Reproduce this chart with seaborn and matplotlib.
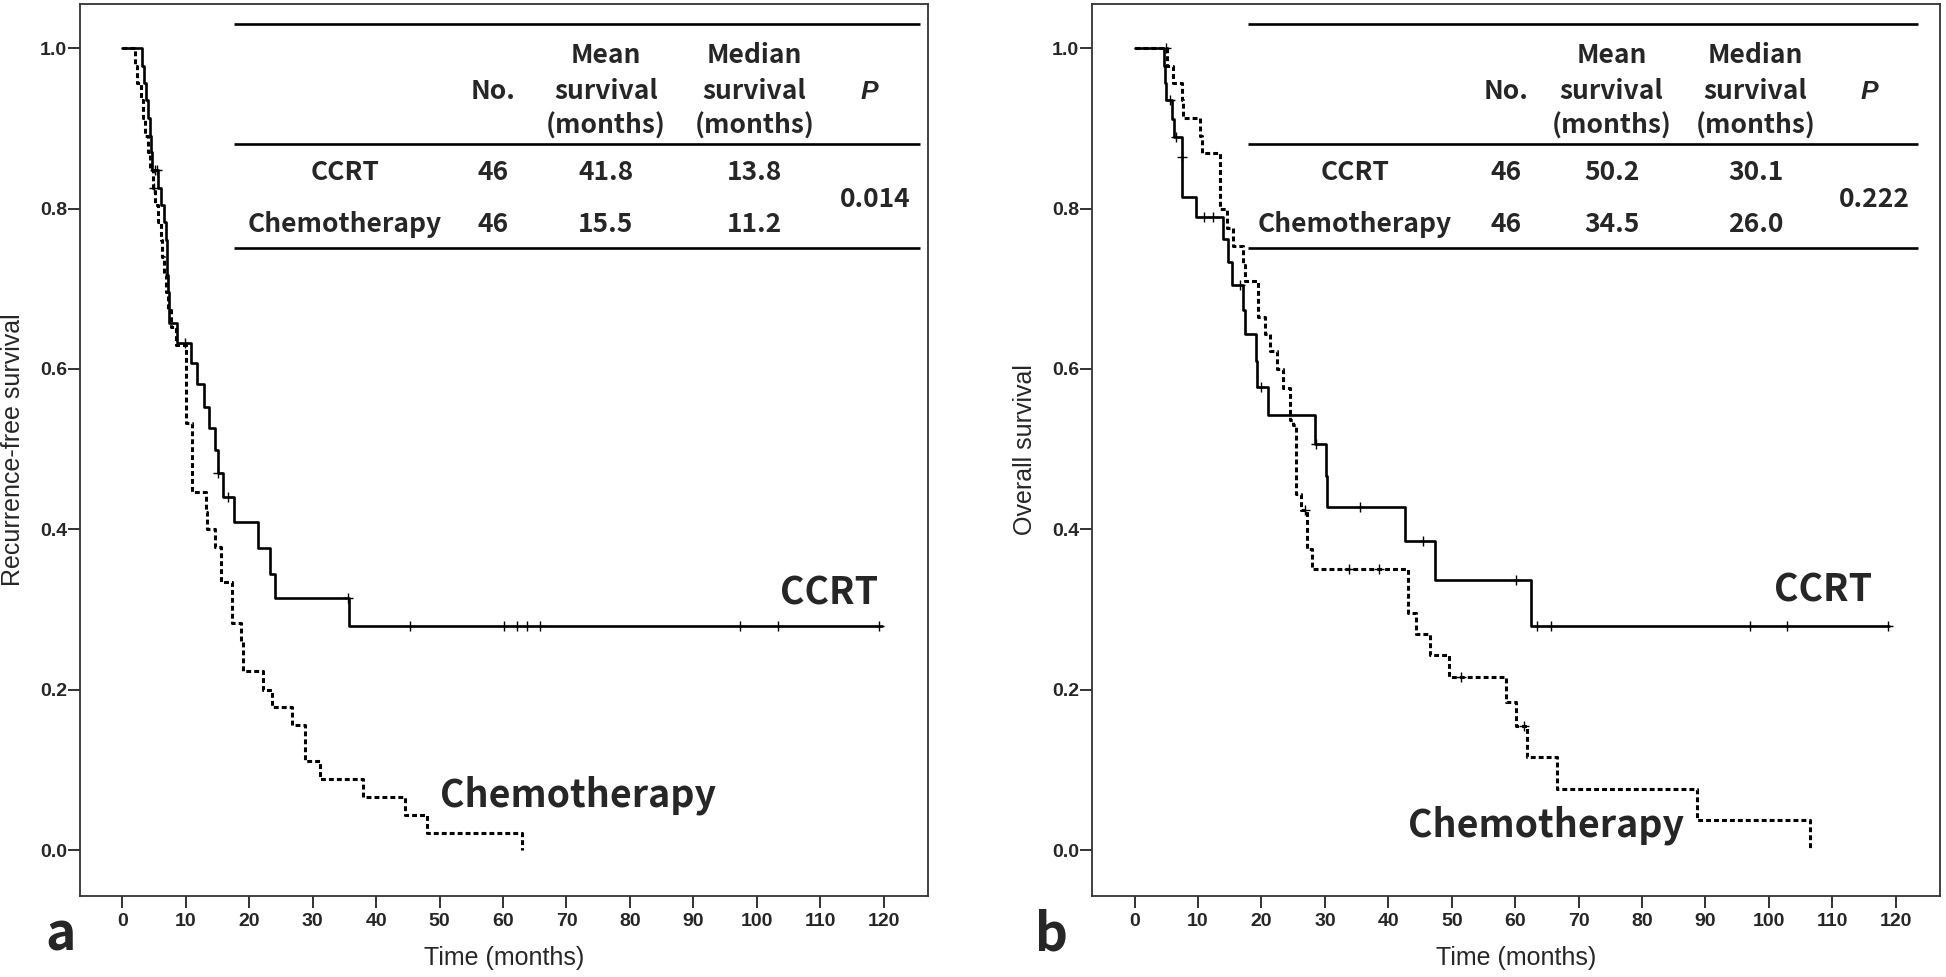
import numpy as np
import pandas as pd
import matplotlib
matplotlib.use("Agg")
import matplotlib.pyplot as plt
import seaborn as sns

# Kaplan-Meier step values (time in months, survival after the step)
rfs_ccrt_t = [0, 3.0, 3.4, 3.65, 4.0, 4.3, 4.5, 4.7, 5.6, 6.0, 6.5, 6.8, 7.0, 7.1, 7.3,
              8.6, 10.8, 11.8, 12.9, 13.6, 14.6, 15.0, 15.9, 17.6, 21.3, 23.3, 24.1, 35.7, 119.7]
rfs_ccrt_s = [1.0, 0.978, 0.957, 0.935, 0.913, 0.891, 0.870, 0.848, 0.826, 0.804, 0.783, 0.761,
              0.717, 0.696, 0.657, 0.633, 0.608, 0.581, 0.552, 0.526, 0.499, 0.470, 0.440, 0.409,
              0.377, 0.345, 0.314, 0.279, 0.279]
rfs_ccrt_cens = [5.2, 5.5, 9.9, 15.1, 16.7, 35.6, 45.4, 60.2, 62.2, 63.7, 65.8, 97.3, 103.3, 119.2]

rfs_chemo_t = [0, 1.9, 2.3, 2.9, 3.3, 3.6, 4.0, 4.4, 4.8, 5.2, 5.6, 6.0, 6.3, 6.6, 6.9, 7.2, 7.7,
               8.5, 10.0, 11.0, 13.1, 13.4, 14.6, 15.5, 17.3, 18.7, 19.0, 22.2, 23.6, 26.8, 28.8,
               31.1, 37.9, 44.5, 48.0, 63.0]
rfs_chemo_s = [1.0, 0.978, 0.957, 0.935, 0.913, 0.891, 0.870, 0.848, 0.826, 0.804, 0.783, 0.761,
               0.739, 0.717, 0.696, 0.674, 0.652, 0.630, 0.533, 0.447, 0.422, 0.401, 0.378, 0.335,
               0.283, 0.261, 0.223, 0.200, 0.178, 0.156, 0.111, 0.089, 0.067, 0.044, 0.022, 0.0]
rfs_chemo_cens = [5.0]

os_ccrt_t = [0, 4.6, 4.8, 4.9, 5.9, 6.2, 7.4, 7.5, 9.7, 13.9, 14.7, 15.3, 17.1, 17.4, 19.1, 19.3,
             21.1, 28.5, 30.2, 30.4, 42.6, 47.3, 62.5, 118.9]
os_ccrt_s = [1.0, 0.978, 0.957, 0.935, 0.912, 0.889, 0.864, 0.814, 0.789, 0.762, 0.733, 0.705,
             0.674, 0.643, 0.610, 0.578, 0.543, 0.507, 0.467, 0.428, 0.385, 0.337, 0.280, 0.280]
os_ccrt_cens = [5.6, 6.5, 7.45, 11.0, 12.4, 16.6, 20.0, 28.6, 35.5, 45.5, 60.2, 63.5, 65.7,
                97.0, 102.9, 118.7]

os_chemo_t = [0, 5.1, 6.0, 7.4, 7.7, 10.3, 10.7, 13.4, 14.5, 15.5, 17.1, 17.4, 19.5, 20.5, 21.3,
              22.5, 23.4, 24.5, 25.0, 25.5, 26.2, 27.2, 28.0, 43.1, 44.4, 46.5, 49.5, 58.5, 60.2,
              61.8, 66.6, 88.7, 106.5]
os_chemo_s = [1.0, 0.978, 0.957, 0.935, 0.913, 0.891, 0.869, 0.800, 0.776, 0.753, 0.730, 0.710,
              0.665, 0.643, 0.622, 0.600, 0.576, 0.536, 0.530, 0.444, 0.424, 0.375, 0.351, 0.296,
              0.270, 0.243, 0.216, 0.185, 0.155, 0.116, 0.077, 0.038, 0.0]
os_chemo_cens = [5.0, 26.8, 33.8, 38.6, 51.5, 61.4]

# table contents
groups = ["CCRT", "Chemotherapy"]
n_patients = ["46", "46"]
rfs_mean = ["41.8", "15.5"]
rfs_median = ["13.8", "11.2"]
rfs_p = "0.014"
os_mean = ["50.2", "34.5"]
os_median = ["30.1", "26.0"]
os_p = "0.222"

x_ticks = list(range(0, 121, 10))
y_ticks = [0.0, 0.2, 0.4, 0.6, 0.8, 1.0]

sns.set_theme(style="white")
plt.rcParams["font.family"] = ["Liberation Sans", "DejaVu Sans"]
KR = ["Noto Sans CJK KR", "DejaVu Sans"]


def draw_km(ax, t, s, cens, dotted):
    df = pd.DataFrame({"time": t, "surv": s})
    if dotted:
        sns.lineplot(data=df, x="time", y="surv", ax=ax, estimator=None, sort=False,
                     drawstyle="steps-post", color="black", linewidth=2.2,
                     linestyle=(0, (1.6, 1.0)))
    else:
        sns.lineplot(data=df, x="time", y="surv", ax=ax, estimator=None, sort=False,
                     drawstyle="steps-post", color="black", linewidth=1.9)
    t = np.asarray(t)
    s = np.asarray(s)
    cy = s[np.searchsorted(t, cens, side="right") - 1]
    sns.scatterplot(x=cens, y=cy, ax=ax, marker="+", s=55, linewidth=1.0, color="black",
                    zorder=4)


def draw_table(ax, cols, mean, median, pval):
    lab_x, no_x, mean_x, med_x, p_x, pv_x, x0, x1 = cols
    for y in [1.030, 0.880, 0.751]:
        ax.plot([x0, x1], [y, y], color="black", linewidth=1.9, solid_capstyle="butt")
    kw = dict(ha="center", va="baseline", fontsize=19, fontweight="bold", family=KR)
    ax.text(no_x, 0.937, "No.", **kw)
    for xc, w in [(mean_x, "Mean"), (med_x, "Median")]:
        ax.text(xc, 0.982, w, **kw)
        ax.text(xc, 0.937, "survival", **kw)
        ax.text(xc, 0.893, "(months)", **kw)
    ax.text(p_x, 0.937, "P", ha="center", va="baseline", fontsize=19, fontweight="bold",
            fontstyle="italic", family=["Liberation Sans", "DejaVu Sans"])
    for yb, g, n, m, md in zip([0.836, 0.771], groups, n_patients, mean, median):
        ax.text(lab_x, yb, g, **kw)
        ax.text(no_x, yb, n, **kw)
        ax.text(mean_x, yb, m, **kw)
        ax.text(med_x, yb, md, **kw)
    ax.text(pv_x, 0.802, pval, **kw)


def style_axes(ax, ylabel):
    ax.set_xlim(-6.7, 127.0)
    ax.set_ylim(-0.057, 1.055)
    ax.set_xticks(x_ticks)
    ax.set_yticks(y_ticks)
    ax.set_xticklabels([str(v) for v in x_ticks])
    ax.set_yticklabels([f"{v:.1f}" for v in y_ticks])
    for lab in ax.get_xticklabels() + ax.get_yticklabels():
        lab.set_fontweight("bold")
        lab.set_fontsize(14)
    ax.tick_params(axis="both", direction="out", length=8.5, width=1.3, color="#222222",
                   bottom=True, left=True)
    ax.tick_params(axis="x", pad=3.5)
    ax.tick_params(axis="y", pad=0.8)
    for sp in ax.spines.values():
        sp.set_color("#333333")
        sp.set_linewidth(1.3)
    ax.set_xlabel("Time (months)", fontsize=18)
    ax.set_ylabel(ylabel, fontsize=18)
    ax.xaxis.set_label_coords(0.5, -0.0695)
    ax.xaxis.label.set_va("center")
    ax.yaxis.set_label_coords(-0.079, 0.5)
    ax.yaxis.label.set_va("center")
    ax.grid(False)


fig = plt.figure(figsize=(19.46, 9.77), dpi=100)
ax1 = fig.add_axes([0.0411, 0.0829, 0.4358, 0.913])
ax2 = fig.add_axes([0.5612, 0.0829, 0.4358, 0.913])

draw_km(ax1, rfs_ccrt_t, rfs_ccrt_s, rfs_ccrt_cens, dotted=False)
draw_km(ax1, rfs_chemo_t, rfs_chemo_s, rfs_chemo_cens, dotted=True)
draw_km(ax2, os_ccrt_t, os_ccrt_s, os_ccrt_cens, dotted=False)
draw_km(ax2, os_chemo_t, os_chemo_s, os_chemo_cens, dotted=True)

style_axes(ax1, "Recurrence-free survival")
style_axes(ax2, "Overall survival")

draw_table(ax1, (35.1, 58.5, 76.2, 99.6, 117.8, 118.6, 17.6, 125.7), rfs_mean, rfs_median, rfs_p)
draw_table(ax2, (34.7, 58.6, 75.2, 97.9, 115.8, 116.6, 17.8, 123.5), os_mean, os_median, os_p)

big = dict(fontsize=27, fontweight="bold", family=KR, va="baseline")
ax1.text(119.1, 0.307, "CCRT", ha="right", **big)
ax1.text(50.0, 0.055, "Chemotherapy", ha="left", **big)
ax2.text(116.3, 0.310, "CCRT", ha="right", **big)
ax2.text(43.1, 0.017, "Chemotherapy", ha="left", **big)

fig.text(0.0235, 0.0276, "a", fontsize=37, fontweight="bold", family=KR, va="baseline")
fig.text(0.532, 0.0276, "b", fontsize=37, fontweight="bold", family=KR, va="baseline")

fig.savefig("out.png", dpi=100)
